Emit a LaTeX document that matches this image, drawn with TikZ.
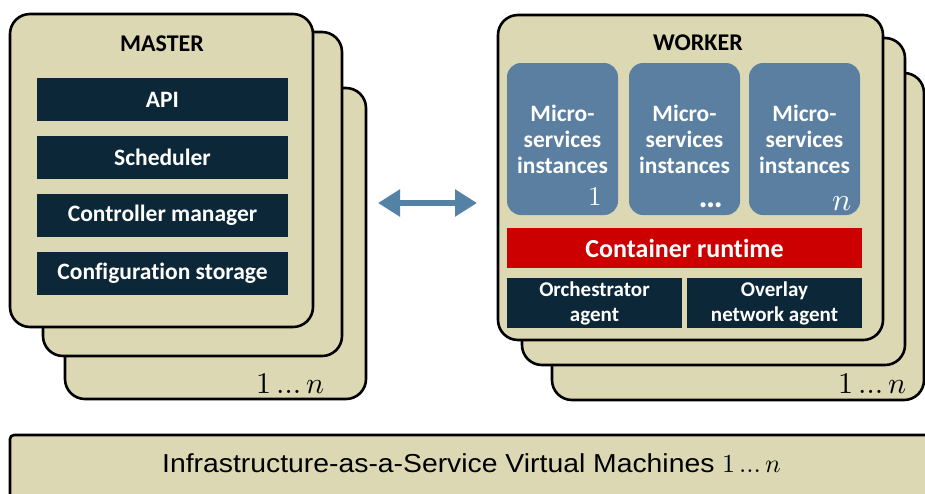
\documentclass[tikz,border=0pt]{standalone}
\usepackage{fontspec}
\usepackage{unicode-math}
\setmathfont{Latin Modern Math}
\usepackage{tikz}
\usetikzlibrary{arrows.meta,positioning}
\newfontfamily\calibfont[Ligatures=NoCommon]{Carlito}
\newfontfamily\arialfont[FakeStretch=1.09]{Liberation Sans}

\begin{document}
\begin{tikzpicture}[x=1pt, y=-1pt,
	card/.style={draw=black, line width=2.6pt, fill=cardtan, rounded corners=20pt},
	bar/.style={fill=navy, text=white, inner sep=0pt, minimum width=251pt, minimum height=43pt,
		font=\calibfont\bfseries\fontsize{23.5}{26}\selectfont},
	ms/.style={fill=msblue, text=white, rounded corners=14pt, inner sep=0pt, align=center,
		minimum width=111pt, minimum height=152pt, font=\calibfont\bfseries\fontsize{23.5}{26}\selectfont},
	agent/.style={bar, minimum width=175pt, minimum height=50pt, align=center,
		font=\calibfont\bfseries\fontsize{21}{25}\selectfont},
	title/.style={font=\calibfont\bfseries\fontsize{24}{26}\selectfont, text=black},
	count/.style={font=\fontsize{30}{30}\selectfont, anchor=base east, inner sep=0pt},
	link/.style={{Triangle[length=22pt,width=26pt]}-{Triangle[length=22pt,width=26pt]},
		line width=6pt, draw=arrowblue}
	]
	\definecolor{cardtan}{RGB}{221,216,180}
	\definecolor{navy}{RGB}{12,40,56}
	\definecolor{msblue}{RGB}{91,127,160}
	\definecolor{crred}{RGB}{204,0,0}
	\definecolor{arrowblue}{RGB}{84,130,165}
	
	\useasboundingbox (0,0) rectangle (925,493);
	\clip (0,0) rectangle (925,493);
	
	% Master stack
	\draw[card] (65,88) rectangle (366,399);
	\draw[card] (43,32) rectangle (342,356);
	\draw[card] (10,14) rectangle (313,327);
	\node[title] (master) at (162,44) {MASTER};
	\node[bar] (api) at (162.5,99.5) {API};
	\node[bar] (sched) at (162.5,157.5) {Scheduler};
	\node[bar] (ctrl) at (162.5,215.5) {Controller manager};
	\node[bar] (store) at (162.5,273.5) {Configuration storage};
	\node[count] (mcount) at (325,393) {$1\,…\,n$};
	
	% Worker stack
	\draw[card] (552,73) rectangle (924,400);
	\draw[card] (522,38) rectangle (905,365);
	\draw[card] (498,15) rectangle (883,340);
	\node[title] (worker) at (698,43) {WORKER};
	
	% Micro-services instances
	\node[ms] (ms1) at (562.5,139) {Micro-\\services\\instances};
	\node[ms] (ms2) at (684.5,139) {Micro-\\services\\instances};
	\node[ms] (ms3) at (804.5,139) {Micro-\\services\\instances};
	\node[count, text=white, font=\fontsize{27}{27}\selectfont] (n1) at (602,205) {$1$};
	\node[count, text=white, font=\calibfont\bfseries\fontsize{34}{34}\selectfont] (n2) at (723,207) {…};
	\node[count, text=white, font=\fontsize{32}{32}\selectfont] (n3) at (852,210) {$n$};
	
	% Runtime and agents
	\node[bar, fill=crred, minimum width=355pt, minimum height=40pt,
		font=\calibfont\bfseries\fontsize{26}{28}\selectfont] (runtime) at (684.5,248) {Container runtime};
	\node[agent] (orch) at (594.5,303) {Orchestrator\\agent};
	\node[agent] (overlay) at (774.5,303) {Overlay\\network agent};
	\node[count] (wcount) at (907,393) {$1\,…\,n$};
	
	% Link between master and worker
	\coordinate (linkl) at (378,203);
	\coordinate (linkr) at (477,203);
	\draw[link] (linkl) -- (linkr);
	
	% IaaS layer
	\draw[draw=black, line width=2.6pt, fill=cardtan, rounded corners=4pt] (10,435) rectangle (960,530);
	\node[anchor=base west, inner sep=0pt, font=\arialfont\fontsize{26}{28}\selectfont] (iaas) at (162,472)
		{Infrastructure-as-a-Service Virtual Machines {\rmfamily\fontsize{26}{28}\selectfont$1\,…\,n$}};
	
\end{tikzpicture}
\end{document}
